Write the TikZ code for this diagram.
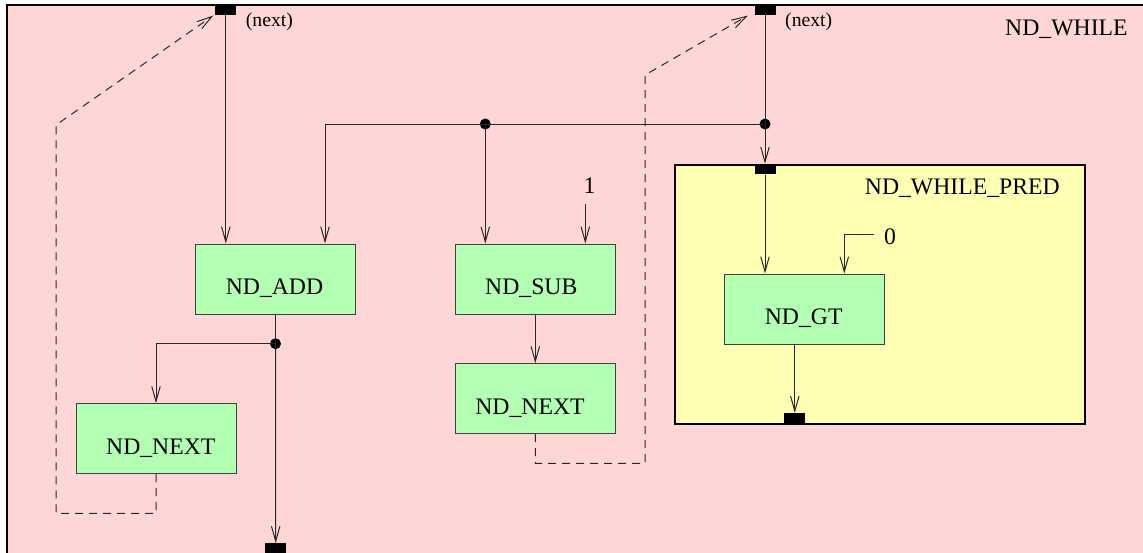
\documentclass[tikz,border=0pt]{standalone}
\usepackage{fontspec}
\setmainfont{Liberation Serif}
\usetikzlibrary{arrows.meta,calc}
\definecolor{pinkbg}{RGB}{255,214,214}
\definecolor{yellowbg}{RGB}{255,255,179}
\definecolor{greenbg}{RGB}{179,255,179}
\definecolor{edgecol}{RGB}{40,40,40}
\begin{document}
\begin{tikzpicture}[x=1pt,y=-1pt,
  bigfont/.style={font=\fontsize{23.7}{28}\selectfont},
  smallfont/.style={font=\fontsize{19.7}{23}\selectfont},
  container/.style={draw=black,line width=2pt,anchor=north west,inner sep=0pt},
  opbox/.style={draw=black!75,line width=1pt,fill=greenbg,minimum width=160pt,minimum height=70pt,inner sep=0pt},
  lbl/.style={bigfont,inner sep=0pt,anchor=base},
  lblw/.style={bigfont,inner sep=0pt,anchor=base west},
  nextlbl/.style={smallfont,inner sep=0pt,anchor=base west},
  port/.style={fill=black,draw=none,minimum width=21pt,minimum height=10.5pt,inner sep=0pt},
  jdot/.style={circle,fill=black,draw=none,minimum size=11pt,inner sep=0pt},
  conn/.style={draw=edgecol,line width=1pt},
  arr/.style={conn,-{Straight Barb[length=15pt,width=8.5pt]}},
  darr/.style={conn,dash pattern=on 8pt off 6pt,-{Straight Barb[length=15pt,width=8.5pt]}},
]
\useasboundingbox (0,0) rectangle (1143,552);
% containers
\node[container,fill=pinkbg,minimum width=1160pt,minimum height=570pt] (whilebox) at (6,4) {};
\node[container,fill=yellowbg,minimum width=410pt,minimum height=259.3pt] (predbox) at (674.3,164) {};
\node[lblw] (whilelbl) at (1005,35) {ND\_WHILE};
\node[lblw] (predlbl) at (864.7,194.3) {ND\_WHILE\_PRED};
% ports
\node[port] (pA) at (225.8,9.5) {};
\node[port] (pB) at (765,9.5) {};
\node[port] (pY) at (765,169.2) {};
\node[port] (pYb) at (794.8,418.3) {};
\node[port] (pBot) at (275.7,548.5) {};
\node[nextlbl] (nextA) at (245.7,26) {(next)};
\node[nextlbl] (nextB) at (785,26) {(next)};
% operation boxes
\node[opbox] (add) at (275.5,279) {};
\node[lbl] (addlbl) at (274.5,294.3) {ND\_ADD};
\node[opbox] (sub) at (535.3,279) {};
\node[lbl] (sublbl) at (531.3,294) {ND\_SUB};
\node[opbox] (nextm) at (535.3,398.7) {};
\node[lbl] (nextmlbl) at (530,414) {ND\_NEXT};
\node[opbox] (nextl) at (156,438.7) {};
\node[lbl] (nextllbl) at (160.8,454) {ND\_NEXT};
\node[opbox] (gt) at (804.7,309) {};
\node[lbl] (gtlbl) at (803.7,324) {ND\_GT};
% constants
\node[lbl] (one) at (589.5,193.3) {1};
\node[lbl] (zero) at (890,244.7) {0};
% junction dots
\node[jdot] (d1) at (485.3,124) {};
\node[jdot] (d2) at (765,124) {};
\node[jdot] (d3) at (275.5,343.7) {};
% helper coordinates
\coordinate (c1) at (585.3,204.3);
\coordinate (c0) at (874.3,234);
\coordinate (l1) at (56,513.3);
\coordinate (l2) at (56,125);
\coordinate (l3) at (213.3,15.5);
\coordinate (m1) at (645,463.3);
\coordinate (m2) at (645,75);
\coordinate (m3) at (748,15.5);
% connectors
\draw[arr] (pA.south) -- (pA.south |- add.north);
\draw[conn] (d2.center) -- (d1.center);
\draw[arr] (d1.center) -| ([xshift=49.5pt]add.north);
\draw[arr] (d1.center) -- (d1.center |- sub.north);
\draw[conn] (pB.south) -- (d2.center);
\draw[arr] (d2.center) -- (pY.north);
\draw[arr] (pY.south) -- (pY.south |- gt.north);
\draw[arr] (c1) -- (c1 |- sub.north);
\draw[arr] (c0) -| ([xshift=39.6pt]gt.north);
\draw[arr] (sub.south) -- (nextm.north);
\draw[conn] (add.south) -- (d3.center);
\draw[arr] (d3.center) -- (pBot.north);
\draw[arr] (d3.center) -| (nextl.north);
\draw[arr] (pYb.north |- gt.south) -- (pYb.north);
\draw[darr] (nextl.south) |- (l1) -- (l2) -- (l3);
\draw[darr] (nextm.south) |- (m1) -- (m2) -- (m3);
\end{tikzpicture}
\end{document}
